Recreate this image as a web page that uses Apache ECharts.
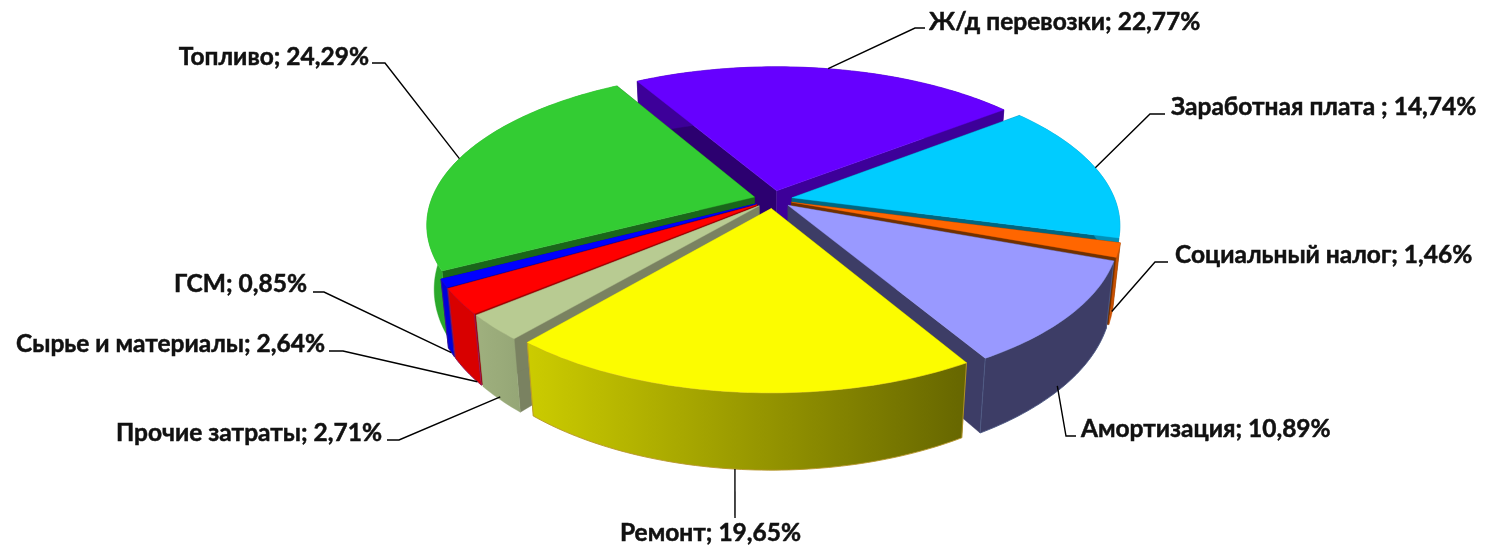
<!DOCTYPE html>
<html>
<head>
<meta charset="utf-8">
<script src="https://cdn.jsdelivr.net/npm/echarts@6/dist/echarts.min.js"></script>
<style>html,body{margin:0;padding:0;background:#fff}#c{width:1493px;height:547px}</style>
</head>
<body>
<div id="c"></div>
<script>
// ---- data, in the reference's clockwise order ----
var categories = ['Ж/д перевозки','Заработная плата ','Социальный налог','Амортизация','Ремонт','Прочие затраты','Сырье и материалы','ГСМ','Топливо'];
var shares = [22.77,14.74,1.46,10.89,19.65,2.71,2.64,0.85,24.29];

// ---- styles ----
var topColors   = ['#6600ff','#00ccff','#ff6600','#9999ff','#fcfc00','#b8cb92','#ff0000','#0000ff','#33cc33'];
var startWall   = ['#2c0070','#006680','#703000','#3d3d66','#666600','#7a8261','#a00000','#000099','#1a661a'];
var endWall     = ['#3d0099','#006680','#703000','#3d3d66','#cccc00','#7a8261','#a00000','#000099','#1a661a'];
var outerLeft   = ['#3d0099','#0090b8','#d05000','#3d3d66','#cccc00','#9fb07e','#d80000','#0000d8','#2aa82a'];
var outerRight  = ['#3d0099','#0090b8','#c05000','#3d3d66','#666600','#95a676','#d80000','#0000d8','#2fb52f'];
var wallEdge    = [null,null,null,'#4e5a84','#b8962e',null,'#8a1a60','#3a1a90',null];

// ---- projection of the tilted, exploded pie ----
var view = {cx:773, cy:199.5, R:323, tilt:0.46, persp:0.175, explode:0.06, thick:63, vanish:3050, firstAngle:-30};

function project(u, v, depth) {
  var s = 1 / (1 - view.persp * v);
  var x = view.cx + view.R * u * s;
  var y = view.cy + view.R * view.tilt * v * s;
  var h = view.thick * s * depth;
  return [x + (view.cx - x) * h / view.vanish, y + h];
}
var total = shares.reduce(function (a, b) { return a + b; }, 0);
var spans = [];
shares.reduce(function (acc, val) {
  var a0 = view.firstAngle + acc / total * 360, a1 = view.firstAngle + (acc + val) / total * 360;
  spans.push([a0, a1, (a0 + a1) / 2]);
  return acc + val;
}, 0);
var rad = Math.PI / 180;
function rimPoint(i, angle, r, depth) {
  var m = spans[i][2] * rad, a = angle * rad;
  return project(view.explode * Math.sin(m) + r * Math.sin(a), -view.explode * Math.cos(m) - r * Math.cos(a), depth);
}
function arcPoints(i, depth) {
  var out = [], a0 = spans[i][0], a1 = spans[i][1], n = Math.max(3, Math.ceil(a1 - a0));
  for (var k = 0; k <= n; k++) out.push(rimPoint(i, a0 + (a1 - a0) * k / n, 1, depth));
  return out;
}
// painter's order: farthest slice first
var rank = {};
shares.map(function (_, i) { return i; })
  .sort(function (p, q) { return -Math.cos(spans[p][2] * rad) + Math.cos(spans[q][2] * rad); })
  .forEach(function (i, pos) { rank[i] = pos; });

function poly(points, fill, z2, stroke) {
  return {type:'polygon', shape:{points:points}, z2:z2,
    style:{fill:fill, stroke:stroke || fill, lineWidth:stroke ? 0.9 : 0.4}};
}
function renderSlice(params, api) {
  var i = api.value(0), z = rank[i] * 10 + 1;
  var apexTop = rimPoint(i, 0, 0, 0), apexBot = rimPoint(i, 0, 0, 1);
  var top = arcPoints(i, 0), bot = arcPoints(i, 1);
  var wall = top.concat(bot.slice().reverse());
  var grad = new echarts.graphic.LinearGradient(0, 0, 1, 0, [
    {offset:0, color:outerLeft[i]}, {offset:1, color:outerRight[i]}]);
  var first = top[0], firstB = bot[0], last = top[top.length - 1], lastB = bot[bot.length - 1];
  return {type:'group', children:[
    poly([apexTop, first, firstB, apexBot], startWall[i], z),
    poly([apexTop, last, lastB, apexBot], endWall[i], z + 1),
    poly(wall, grad, z + 2, wallEdge[i]),
    poly([apexTop].concat(top), topColors[i], z + 3)
  ]};
}

// ---- labels: elbow and text placement on the page ----
var leaderDepth = [0, 0, 0.92, 0.92, 1, 0.96, 1, 1, 0];
var leaderShift = [0, -0.6, 0, 2.2, 0.5, 0, -3.5, 0, -0.5];
var leaderElbows = [
  [[915,28],[925,28]], [[1150,114],[1165,114]], [[1155,262],[1168,262]], [[1066,436],[1076,436]],
  [[735,518]], [[399,440],[387,440]], [[343,351],[329,351]], [[324,292],[313,292]], [[385,63],[372,63]]
];
var labelSpots = [
  [929,22,'left'], [1171,107,'left'], [1175,255,'left'], [1081,429,'left'],
  [620,533,'left'], [382,433,'right'], [325,344,'right'], [307,284,'right'], [369,57,'right']
];
var labelTexts = categories.map(function (c, i) {
  return c + '; ' + shares[i].toFixed(2).replace('.', ',') + '%';
});
function renderLabel(params, api) {
  var i = api.value(0), spot = labelSpots[i];
  var start = rimPoint(i, spans[i][2] + leaderShift[i], 1, leaderDepth[i]);
  return {type:'group', children:[
    {type:'polyline', z2:500, shape:{points:[start].concat(leaderElbows[i])},
      style:{fill:'none', stroke:'#000', lineWidth:1.4}},
    {type:'text', z2:501, style:{text:labelTexts[i], x:spot[0], y:spot[1], align:spot[2], verticalAlign:'middle',
      font:'bold 24.5px Lato, "Open Sans", sans-serif', fill:'#111', stroke:'#111', lineWidth:0.5}}
  ]};
}

var indexRows = categories.map(function (_, i) { return [i]; });
var chart = echarts.init(document.getElementById('c'), null, {renderer:'canvas'});
chart.setOption({
  animation:false,
  backgroundColor:'#fff',
  series:[
    {type:'custom', coordinateSystem:'none', silent:true, data:indexRows, renderItem:renderSlice, z:2},
    {type:'custom', coordinateSystem:'none', silent:true, data:indexRows, renderItem:renderLabel, z:3}
  ]
});
</script>
</body>
</html>
